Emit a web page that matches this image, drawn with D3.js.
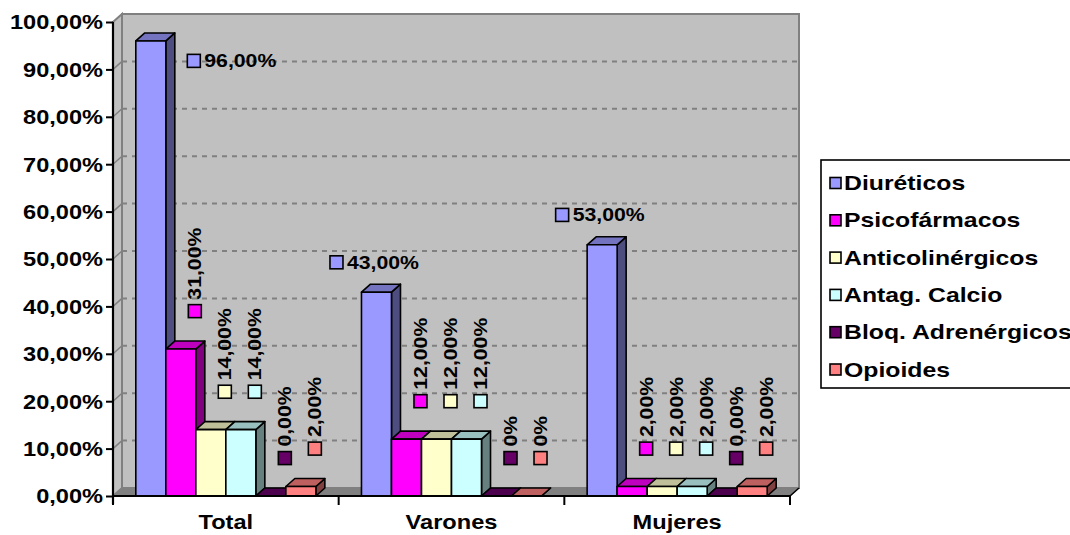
<!DOCTYPE html>
<html>
<head>
<meta charset="utf-8">
<script src="https://cdn.jsdelivr.net/npm/d3@7/dist/d3.min.js"></script>
<style>
  html, body { margin: 0; padding: 0; background: #ffffff; }
  svg { display: block; }
  text { font-family: "Liberation Sans", Arial, sans-serif; font-weight: bold; fill: #000; }
</style>
</head>
<body>
<svg id="chart" width="1070" height="535"></svg>
<script>
// ---- data ----
const categories = ["Total", "Varones", "Mujeres"];
const series = ["Diuréticos", "Psicofármacos", "Anticolinérgicos", "Antag. Calcio", "Bloq. Adrenérgicos", "Opioides"];
const seriesColors = ["#9999FF", "#FF00FF", "#FFFFCC", "#CCFFFF", "#660066", "#FF8080"];
const totalValues   = [96, 31, 14, 14, 0, 2];
const varonesValues = [43, 12, 12, 12, 0, 0];
const mujeresValues = [53, 2, 2, 2, 0, 2];
// decimals shown in each data label
const totalDecimals   = [2, 2, 2, 2, 2, 2];
const varonesDecimals = [2, 2, 2, 2, 0, 0];
const mujeresDecimals = [2, 2, 2, 2, 2, 2];
const yTicks = [0, 10, 20, 30, 40, 50, 60, 70, 80, 90, 100];

const valuesByCategory = [totalValues, varonesValues, mujeresValues];
const decimalsByCategory = [totalDecimals, varonesDecimals, mujeresDecimals];

// ---- layout ----
const svg = d3.select("#chart");
const plotLeft = 113, plotRight = 790, plotTop = 22, plotBottom = 496;
const DX = 9, DY = -8;           // 3D depth offset
const SX = 1.18;                 // horizontal text stretch

const y = d3.scaleLinear().domain([0, 100]).range([plotBottom, plotTop]);
const x0 = d3.scaleBand().domain(categories).range([plotLeft, plotRight]).paddingInner(0).paddingOuter(0);
const x1 = d3.scaleBand().domain(series).range([0, x0.bandwidth()]).paddingInner(0).paddingOuter(0.76);

const locale = d3.formatLocale({ decimal: ",", thousands: ".", grouping: [3], currency: ["", "€"] });
const pct = d => locale.format(".2f")(d) + "%";
const labelFmt = (v, dec) => locale.format("." + dec + "f")(v) + "%";

function shade(hex, k) {
  const c = d3.rgb(hex);
  return d3.rgb(Math.round(c.r * k), Math.round(c.g * k), Math.round(c.b * k)).formatHex();
}
const pts = arr => arr.map(p => p.join(",")).join(" ");

// ---- walls and floor ----
const walls = svg.append("g");
walls.append("polygon")
  .attr("points", pts([[plotLeft, y(100)], [plotLeft + DX, y(100) + DY], [plotLeft + DX, y(0) + DY], [plotLeft, y(0)]]))
  .attr("fill", "#C0C0C0").attr("stroke", "#808080").attr("stroke-width", 2);
walls.append("rect")
  .attr("x", plotLeft + DX).attr("y", y(100) + DY)
  .attr("width", plotRight - plotLeft).attr("height", y(0) - y(100))
  .attr("fill", "#C0C0C0").attr("stroke", "#808080").attr("stroke-width", 2);
walls.append("polygon")
  .attr("points", pts([[plotLeft, y(0)], [plotLeft + DX, y(0) + DY], [plotRight + DX, y(0) + DY], [plotRight, y(0)]]))
  .attr("fill", "#808080").attr("stroke", "#808080").attr("stroke-width", 1);

// gridlines
const grid = svg.append("g");
yTicks.filter(t => t > 0 && t < 100).forEach(t => {
  grid.append("line")
    .attr("x1", plotLeft + DX).attr("x2", plotRight + DX)
    .attr("y1", y(t) + DY).attr("y2", y(t) + DY)
    .attr("stroke", "#808080").attr("stroke-width", 2).attr("stroke-dasharray", "5,5");
  grid.append("line")
    .attr("x1", plotLeft).attr("x2", plotLeft + DX)
    .attr("y1", y(t)).attr("y2", y(t) + DY)
    .attr("stroke", "#808080").attr("stroke-width", 1.5);
});

// ---- bars ----
const bars = svg.append("g").attr("stroke", "#000").attr("stroke-width", 1.6).attr("stroke-linejoin", "round");
categories.forEach((cat, ci) => {
  series.forEach((s, si) => {
    const v = valuesByCategory[ci][si];
    const col = seriesColors[si];
    const bx = x0(cat) + x1(s), w = x1.bandwidth();
    const ty = y(v), by = y(0);
    bars.append("polygon")
      .attr("points", pts([[bx + w, ty], [bx + w + DX, ty + DY], [bx + w + DX, by + DY], [bx + w, by]]))
      .attr("fill", shade(col, 0.5));
    bars.append("polygon")
      .attr("points", pts([[bx, ty], [bx + DX, ty + DY], [bx + w + DX, ty + DY], [bx + w, ty]]))
      .attr("fill", shade(col, 0.75));
    bars.append("rect")
      .attr("x", bx).attr("y", ty).attr("width", w).attr("height", by - ty)
      .attr("fill", col);
  });
});

// ---- axes ----
const yAxis = svg.append("g").attr("transform", `translate(${plotLeft},0)`)
  .call(d3.axisLeft(y).tickValues(yTicks).tickSize(7).tickPadding(0).tickFormat(pct));
yAxis.select(".domain").attr("stroke", "#000").attr("stroke-width", 2.2).attr("d", `M0,${y(100)}V${y(0) + 8}`);
yAxis.selectAll(".tick line").attr("stroke", "#000").attr("stroke-width", 2);
yAxis.selectAll(".tick text")
  .attr("x", -10 / SX).attr("dy", "0.34em")
  .attr("transform", `scale(${SX},1)`)
  .style("font-size", "20px").style("font-family", "'Liberation Sans', Arial, sans-serif").style("font-weight", "bold");

const xAxis = svg.append("g").attr("transform", `translate(0,${plotBottom})`)
  .call(d3.axisBottom(x0).tickSize(0).tickPadding(19));
xAxis.select(".domain").attr("stroke", "#000").attr("stroke-width", 2.2).attr("d", `M${plotLeft},0H${plotRight}`);
xAxis.selectAll(".tick text")
  .attr("x", 0)
  .attr("transform", `scale(${SX},1)`)
  .style("font-size", "20px").style("font-family", "'Liberation Sans', Arial, sans-serif").style("font-weight", "bold");
// boundary ticks between categories
categories.concat([null]).forEach(c => {
  const bx = c === null ? plotRight : x0(c);
  xAxis.append("line").attr("x1", bx).attr("x2", bx).attr("y1", 0).attr("y2", 9)
    .attr("stroke", "#000").attr("stroke-width", 2);
});
xAxis.append("line").attr("x1", plotRight).attr("y1", 0).attr("x2", plotRight + DX).attr("y2", DY)
  .attr("stroke", "#000").attr("stroke-width", 1.5);

// ---- data labels ----
const labels = svg.append("g");
const SQ = 13;
categories.forEach((cat, ci) => {
  series.forEach((s, si) => {
    const v = valuesByCategory[ci][si];
    const txt = labelFmt(v, decimalsByCategory[ci][si]);
    const bx = x0(cat) + x1(s), w = x1.bandwidth();
    const cxBar = bx + w / 2;
    let cx, cy;
    const horizontal = si === 0;
    if (horizontal) {
      if (v + 6.3 > 98) { cx = bx + w + DX + 19; cy = y(v - 4.2); }
      else { cx = cxBar - 40; cy = y(v + 6.3); }
    } else {
      cx = cxBar + 14; cy = y(v + 8);
    }
    labels.append("rect")
      .attr("x", cx - SQ / 2).attr("y", cy - SQ / 2).attr("width", SQ).attr("height", SQ)
      .attr("fill", seriesColors[si]).attr("stroke", "#000").attr("stroke-width", 1.6);
    if (horizontal) {
      labels.append("text")
        .attr("transform", `translate(${cx + SQ / 2 + 4},${cy + 6.5}) scale(${SX},1)`)
        .style("font-size", "18px").text(txt);
    } else {
      labels.append("text")
        .attr("transform", `translate(${cx},${cy - SQ / 2 - 5}) rotate(-90) scale(${SX},1)`)
        .attr("y", 6.5)
        .style("font-size", "18px").text(txt);
    }
  });
});

// ---- legend ----
const legend = svg.append("g");
legend.append("rect").attr("x", 821).attr("y", 160).attr("width", 300).attr("height", 228)
  .attr("fill", "#fff").attr("stroke", "#000").attr("stroke-width", 1.6);
series.forEach((s, i) => {
  const cy = 183 + i * 37.3;
  legend.append("rect").attr("x", 830).attr("y", cy - 5.5).attr("width", 11).attr("height", 11)
    .attr("fill", seriesColors[i]).attr("stroke", "#000").attr("stroke-width", 1.6);
  legend.append("text")
    .attr("transform", `translate(844,${cy + 7}) scale(1.24,1)`)
    .style("font-size", "20px").text(s);
});
</script>
</body>
</html>
